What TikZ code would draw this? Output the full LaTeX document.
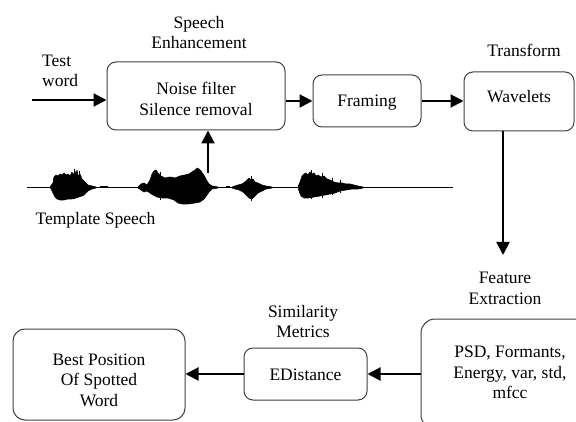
\documentclass[tikz,border=0pt]{standalone}
\usepackage{fontspec}
\setmainfont{Liberation Serif}
\newfontfamily\diagramfont{Liberation Serif}
\usetikzlibrary{arrows.meta}
% text block whose printed lines sit lower (or higher) inside its box
\newcommand\dropblock[2]{\raisebox{-#1}[\height][\depth]{\begin{tabular}{@{}c@{}}#2\end{tabular}}}
\begin{document}
\begin{tikzpicture}[x=1pt,y=-1pt,
  every node/.style={font=\diagramfont\fontsize{17.5}{20.5}\selectfont, inner sep=0pt},
  stagebox/.style={draw=black!75, line width=1pt, rounded corners=9pt},
  caption/.style={align=center},
  flow/.style={line width=2pt, -{Triangle[length=13pt,width=13pt]}},
  blob/.style={fill=black, draw=black, line width=0.6pt, line join=round},
  spike/.style={line width=0.9pt}]
\clip (0,0) rectangle (576,422);

% processing stages
\node[stagebox, minimum width=178pt, minimum height=68pt] (noise) at (196,96)
  {\dropblock{5pt}{Noise filter\\Silence removal}};
\node[stagebox, minimum width=108pt, minimum height=52pt] (framing) at (367,101)
  {\dropblock{1pt}{Framing}};
\node[stagebox, minimum width=110pt, minimum height=59pt] (wave) at (519,101.5)
  {\dropblock{-3pt}{Wavelets}};
\node[stagebox, rounded corners=14pt, minimum width=178pt, minimum height=110pt] (feat) at (510,374)
  {\dropblock{0pt}{PSD, Formants,\\Energy, var, std,\\mfcc}};
\node[stagebox, minimum width=123pt, minimum height=52pt] (edist) at (305.5,374)
  {\dropblock{2pt}{EDistance}};
\node[stagebox, rounded corners=12pt, minimum width=172pt, minimum height=91pt] (best) at (99,374.5)
  {\dropblock{7pt}{Best Position\\Of Spotted\\Word}};

% stage captions
\node[caption] (enhlbl) at (199,32.5) {Speech\\Enhancement};
\node[align=left, anchor=west] (testlbl) at (42,71) {Test\\word};
\node (translbl) at (524,50) {Transform};
\node[caption] (featlbl) at (505,288.5) {Feature\\Extraction};
\node[caption] (simlbl) at (303,321.5) {Similarity\\Metrics};
\node (tmpllbl) at (95.5,220) {Template Speech};

% template speech waveform
\draw[line width=1.5pt] (27,187.5) -- (453,187.5);
\filldraw[blob] (50,187) -- (53,183) -- (54,177) -- (56,175) -- (58,176) -- (60,174) -- (62,175)
  -- (64,173) -- (66,175) -- (68,174) -- (70,176) -- (72,172) -- (73,175) -- (75,171) -- (76,175)
  -- (77,170) -- (78,176) -- (80,174) -- (82,179) -- (84,181) -- (86,183) -- (88,185) -- (92,186)
  -- (96,187) -- (96,188) -- (92,189) -- (88,191) -- (86,193) -- (84,195) -- (82,196) -- (79,197)
  -- (76,198) -- (72,199) -- (68,199) -- (64,200) -- (60,200) -- (57,199) -- (55,197) -- (53,193)
  -- (51,189) -- cycle;
\filldraw[blob] (138,187) -- (141,184) -- (144,183) -- (147,185) -- (150,180) -- (152,174)
  -- (154,171) -- (156,170) -- (158,173) -- (161,176) -- (165,178) -- (170,177) -- (175,178)
  -- (180,176) -- (185,175) -- (189,174) -- (192,172) -- (195,170) -- (197,168) -- (199,169)
  -- (201,171) -- (203,174) -- (205,177) -- (207,181) -- (209,184) -- (212,186) -- (218,187)
  -- (218,188) -- (212,189) -- (209,192) -- (207,195) -- (204,199) -- (200,202) -- (195,203)
  -- (188,204) -- (182,204) -- (178,203) -- (174,200) -- (168,198) -- (162,198) -- (157,197)
  -- (153,195) -- (150,193) -- (147,191) -- (144,192) -- (141,190) -- (138,188) -- cycle;
\filldraw[blob] (232,187) -- (238,185) -- (242,184) -- (245,182) -- (247,180) -- (249,178)
  -- (251,180) -- (253,179) -- (255,182) -- (258,183) -- (262,185) -- (266,186) -- (272,187)
  -- (272,188) -- (266,189) -- (262,191) -- (258,193) -- (255,196) -- (252,199) -- (249,198)
  -- (246,195) -- (243,192) -- (239,190) -- (235,189) -- (232,188) -- cycle;
\filldraw[blob] (298,187) -- (300,182) -- (302,176) -- (304,174) -- (306,173) -- (308,175)
  -- (310,172) -- (312,174) -- (314,173) -- (316,176) -- (318,175) -- (321,177) -- (324,176)
  -- (327,179) -- (330,180) -- (334,182) -- (338,183) -- (342,183) -- (346,184) -- (350,184)
  -- (354,185) -- (358,186) -- (363,187) -- (363,188) -- (358,189) -- (352,189) -- (346,190)
  -- (340,191) -- (335,193) -- (330,194) -- (325,195) -- (320,196) -- (314,197) -- (308,198)
  -- (304,198) -- (301,196) -- (299,191) -- cycle;
% fine spikes on the bursts
\draw[spike] (74,169) -- (74,199) (79,171) -- (79,196) (160,172) -- (160,200)
  (251,176) -- (251,201) (311,170) -- (311,199) (322,173) -- (322,198) (332,178) -- (332,195)
  (340,180) -- (340,193);
\draw[line width=2pt] (100,187.5) -- (108,187.5) (226,187.5) -- (230,187.5);

% connectors
\coordinate (testin) at (32,100);
\coordinate (wavetap) at (208,173);
\coordinate (featin) at (503,255);
\draw[flow] (testin) -- (testin -| noise.west);
\draw[flow] (wavetap) -- (wavetap |- noise.south);
\draw[flow] (framing.west -| noise.east) -- (framing.west);
\draw[flow] (framing.east) -- (framing.east -| wave.west);
\draw[flow] (featin |- wave.south) -- (featin);
\draw[flow] (feat.west) -- (edist.east);
\draw[flow] (edist.west) -- (edist.west -| best.east);
\end{tikzpicture}
\end{document}
